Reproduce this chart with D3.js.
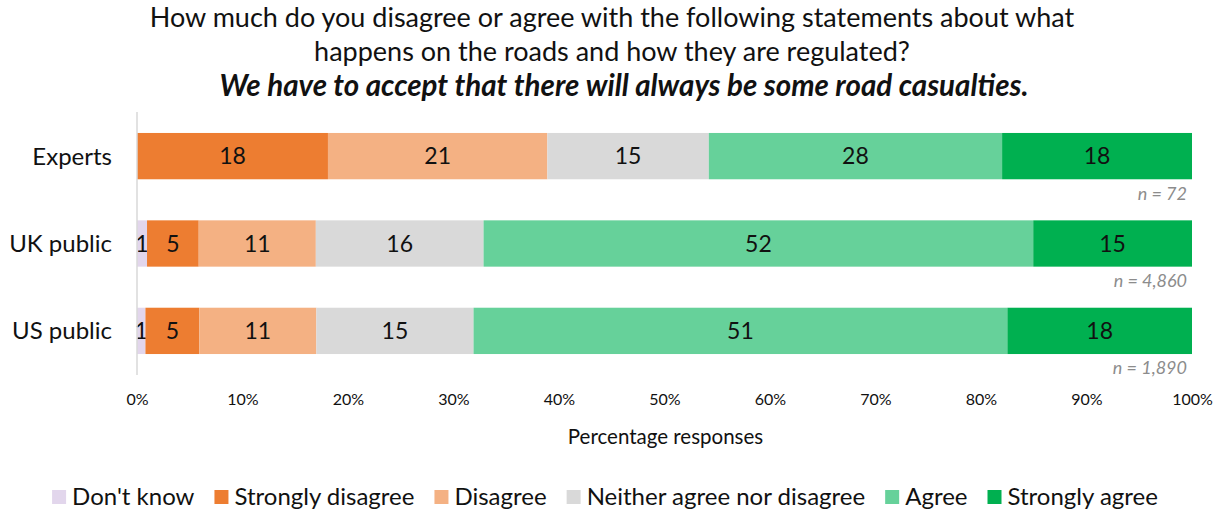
<!DOCTYPE html>
<html>
<head>
<meta charset="utf-8">
<script src="https://cdn.jsdelivr.net/npm/d3@7"></script>
<style>
  body { margin: 0; background: #fff; }
  svg { font-family: Lato, "Open Sans", sans-serif; }
</style>
</head>
<body>
<svg id="chart" width="1223" height="513"></svg>
<script>
// groups shown as rows
var groups = ["Experts", "UK public", "US public"];
var sampleSizes = ["n = 72", "n = 4,860", "n = 1,890"];

// response categories (stack order, left to right)
var categories = ["Don't know", "Strongly disagree", "Disagree",
  "Neither agree nor disagree", "Agree", "Strongly agree"];
var colors = ["#e2d6ec", "#ed7d31", "#f4b183", "#d9d9d9", "#66d19a", "#00b050"];

// percentage per category, one array per group
var experts = [0, 18.1, 20.8, 15.3, 27.8, 18.0];
var ukPublic = [0.95, 4.9, 11.1, 15.9, 52.1, 15.05];
var usPublic = [0.8, 5.1, 11.1, 14.9, 50.6, 17.5];

var tickValues = [0, 10, 20, 30, 40, 50, 60, 70, 80, 90, 100];

var title = [
  "How much do you disagree or agree with the following statements about what",
  "happens on the roads and how they are regulated?"
];
var subtitle = "We have to accept that there will always be some road casualties.";

var values = [experts, ukPublic, usPublic];

var svg = d3.select("#chart");
var margin = { top: 112, left: 137, right: 31, bottom: 138 };
var width = 1223 - margin.left - margin.right,
  height = 513 - margin.top - margin.bottom;

var g = svg.append("g")
  .attr("transform", "translate(" + margin.left + "," + margin.top + ")");

var x = d3.scaleLinear().domain([0, 100]).range([0, width]);
var y = d3.scaleBand().domain(groups).range([0, height]).paddingInner(0.47).paddingOuter(0.24);

// build stacked rows
var rows = groups.map(function (name, i) {
  var row = { group: name };
  categories.forEach(function (c, j) { row[c] = values[i][j]; });
  return row;
});
var stack = d3.stack().keys(categories)(rows);

// title
svg.selectAll(".title")
  .data(title)
  .enter()
  .append("text")
  .attr("x", 612)
  .attr("y", function (d, i) { return 27 + i * 34; })
  .attr("text-anchor", "middle")
  .style("font-size", "27px")
  .style("fill", "#111")
  .text(function (d) { return d; });

svg.append("text")
  .attr("x", 624)
  .attr("y", 96)
  .attr("text-anchor", "middle")
  .style("font-size", "29.5px")
  .style("font-weight", "bold")
  .style("font-style", "italic")
  .style("fill", "#111")
  .text(subtitle);

// bars
var layer = g.selectAll(".layer")
  .data(stack)
  .enter()
  .append("g")
  .attr("class", "layer")
  .attr("fill", function (d, i) { return colors[i]; });

layer.selectAll("rect")
  .data(function (d) { return d; })
  .enter()
  .append("rect")
  .attr("x", function (d) { return x(d[0]); })
  .attr("y", function (d) { return y(d.data.group); })
  .attr("width", function (d) { return x(d[1]) - x(d[0]); })
  .attr("height", y.bandwidth());

// segment labels
layer.selectAll("text")
  .data(function (d) { return d.filter(function (s) { return s[1] - s[0] > 0; }); })
  .enter()
  .append("text")
  .attr("x", function (d) { return x((d[0] + d[1]) / 2); })
  .attr("y", function (d) { return y(d.data.group) + y.bandwidth() / 2; })
  .attr("dy", "0.35em")
  .attr("text-anchor", "middle")
  .style("font-size", "23px")
  .style("fill", "#111")
  .text(function (d) { return Math.round(d[1] - d[0]); });

// left axis line
g.append("line")
  .attr("x1", 0).attr("x2", 0)
  .attr("y1", 0).attr("y2", height)
  .attr("stroke", "#d9d9d9")
  .attr("stroke-width", 1.5);

// category labels
g.selectAll(".grp")
  .data(groups)
  .enter()
  .append("text")
  .attr("x", -25)
  .attr("y", function (d) { return y(d) + y.bandwidth() / 2; })
  .attr("dy", "0.35em")
  .attr("text-anchor", "end")
  .style("font-size", "24px")
  .style("fill", "#111")
  .text(function (d) { return d; });

// sample sizes
g.selectAll(".nsize")
  .data(groups)
  .enter()
  .append("text")
  .attr("x", width - 5)
  .attr("y", function (d) { return y(d) + y.bandwidth() + 14; })
  .attr("dy", "0.35em")
  .attr("text-anchor", "end")
  .style("font-size", "18px")
  .style("font-style", "italic")
  .style("fill", "#8c8c8c")
  .text(function (d, i) { return sampleSizes[i]; });

// x axis
var xAxis = g.append("g")
  .attr("transform", "translate(0," + height + ")")
  .call(d3.axisBottom(x).tickValues(tickValues).tickSize(0).tickPadding(19)
    .tickFormat(function (d) { return d + "%"; }));
xAxis.select(".domain").remove();
xAxis.selectAll("text")
  .style("font-family", "Lato, 'Open Sans', sans-serif")
  .style("font-size", "16px")
  .style("fill", "#111");

g.append("text")
  .attr("x", width / 2 + 1)
  .attr("y", height + 69)
  .attr("text-anchor", "middle")
  .style("font-size", "20.5px")
  .style("fill", "#111")
  .text("Percentage responses");

// legend
var legend = svg.append("g");
var items = legend.selectAll(".item")
  .data(categories)
  .enter()
  .append("g");
items.append("rect")
  .attr("width", 14).attr("height", 14)
  .attr("y", -7)
  .attr("fill", function (d, i) { return colors[i]; });
items.append("text")
  .attr("x", 20)
  .attr("dy", "0.35em")
  .style("font-size", "24px")
  .style("fill", "#111")
  .text(function (d) { return d; });

var pos = 0;
items.each(function () {
  var w = this.querySelector("text").getComputedTextLength();
  d3.select(this).attr("transform", "translate(" + pos + ",0)");
  pos += 20 + w + 20;
});
legend.attr("transform", "translate(" + (605 - (pos - 20) / 2) + ",497)");
</script>
</body>
</html>
